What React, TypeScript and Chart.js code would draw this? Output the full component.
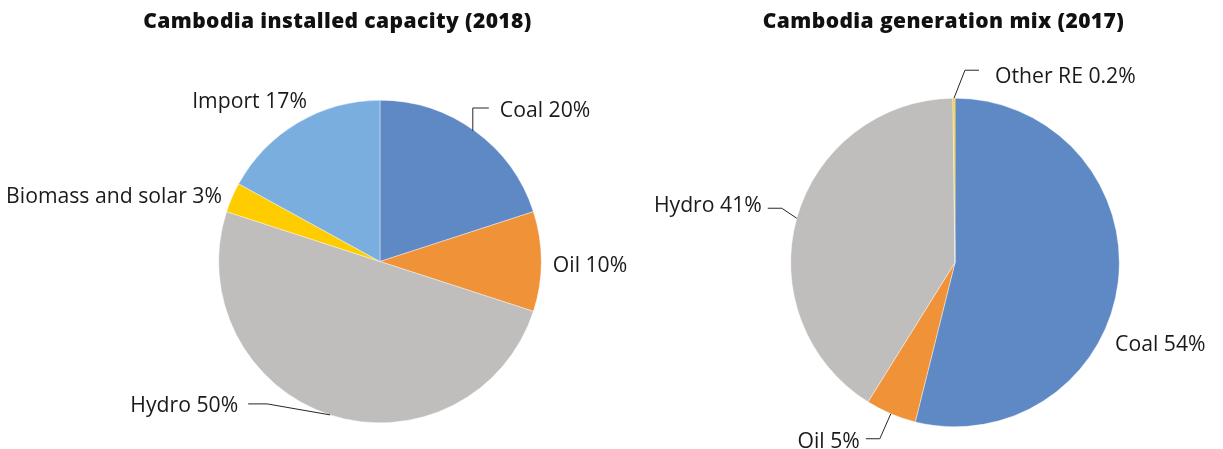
import React, { useEffect, useRef } from "react";
import { Chart, registerables } from "chart.js";

Chart.register(...registerables);

// ---------- data ----------
const capacityTitle = "Cambodia installed capacity (2018)";
const capacityCategories = ["Coal", "Oil", "Hydro", "Biomass and solar", "Import"];
const capacityValues = [20, 10, 50, 3, 17];

const generationTitle = "Cambodia generation mix (2017)";
const generationCategories = ["Coal", "Oil", "Hydro", "Other RE"];
const generationValues = [54, 5, 41, 0.2];

// ---------- styles ----------
const capacityColors = ["#5E89C5", "#F09238", "#BFBEBC", "#FFCC00", "#7AAEDE"];
const generationColors = ["#5E89C5", "#F09238", "#BFBEBC", "#FFCC00"];

type Placement = {
  dx: number;
  dy: number;
  align: "left" | "right";
  leader?: [number, number][];
};

const capacityPlacements: Placement[] = [
  { dx: 25, dy: -14, align: "left", leader: [[-2, 0], [-2, -23], [14, -23]] },
  { dx: 11.5, dy: 10.5, align: "left" },
  { dx: -92, dy: -3, align: "right", leader: [[0, 0], [-63, -11], [-82, -11]] },
  { dx: -10, dy: 5.6, align: "right" },
  { dx: 9, dy: -14.5, align: "right" },
];

const generationPlacements: Placement[] = [
  { dx: -3, dy: 68.5, align: "left" },
  { dx: -31, dy: 34, align: "right", leader: [[0, 0], [-11, 25], [-25, 25]] },
  { dx: -35, dy: -6, align: "right", leader: [[0, 0], [-15, -10], [-29, -10]] },
  { dx: 41, dy: -15, align: "left", leader: [[0, 0], [11, -28], [25, -28]] },
];

const LABEL_FONT = '21.2px "Open Sans"';
const TITLE_FONT = '800 21px "Open Sans"';
const TITLE_SPACING = "0.4px";
const TEXT_COLOR = "#1a1a1a";

const W = 1223;
const H = 449;

type PieProps = {
  title: string;
  titleX: number;
  titleY: number;
  categories: string[];
  values: number[];
  colors: string[];
  padding: { left: number; right: number; top: number; bottom: number };
  placements: Placement[];
};

function PieChart(props: PieProps) {
  const ref = useRef<HTMLCanvasElement | null>(null);

  useEffect(() => {
    const canvas = ref.current;
    if (!canvas) return;
    const { categories, values, colors, placements, title, titleX, titleY } = props;

    const labelPlugin = {
      id: "outsideLabels",
      afterDatasetsDraw(chart: any) {
        const ctx = chart.ctx as CanvasRenderingContext2D;
        const meta = chart.getDatasetMeta(0);
        ctx.save();
        // title
        ctx.font = TITLE_FONT;
        (ctx as any).letterSpacing = TITLE_SPACING;
        ctx.fillStyle = "#111";
        ctx.textAlign = "center";
        ctx.textBaseline = "alphabetic";
        ctx.fillText(title, titleX, titleY);
        (ctx as any).letterSpacing = "0px";

        meta.data.forEach((arc: any, i: number) => {
          const p = arc.getProps(["x", "y", "startAngle", "endAngle", "outerRadius"], true);
          const mid = (p.startAngle + p.endAngle) / 2;
          const px = p.x + Math.cos(mid) * p.outerRadius;
          const py = p.y + Math.sin(mid) * p.outerRadius;
          const pl = placements[i];
          if (!pl) return;
          if (pl.leader) {
            ctx.beginPath();
            ctx.strokeStyle = "#262626";
            ctx.lineWidth = 1;
            pl.leader.forEach(([lx, ly], k) => {
              if (k === 0) ctx.moveTo(px + lx, py + ly);
              else ctx.lineTo(px + lx, py + ly);
            });
            ctx.stroke();
          }
          ctx.font = LABEL_FONT;
          ctx.fillStyle = TEXT_COLOR;
          ctx.textAlign = pl.align;
          ctx.textBaseline = "alphabetic";
          ctx.fillText(`${categories[i]} ${values[i]}%`, px + pl.dx, py + pl.dy);
        });
        ctx.restore();
      },
    };

    const chart = new Chart(canvas, {
      type: "pie",
      data: {
        labels: categories,
        datasets: [
          {
            data: values,
            backgroundColor: colors,
            borderColor: "#ffffff",
            borderWidth: 0.4,
          },
        ],
      },
      options: {
        responsive: false,
        animation: false,
        layout: { padding: props.padding },
        plugins: {
          legend: { display: false },
          title: { display: false },
          tooltip: { enabled: false },
        },
      },
      plugins: [labelPlugin],
    });
    return () => chart.destroy();
  }, []);

  return (
    <canvas
      ref={ref}
      width={W}
      height={H}
      style={{ position: "absolute", left: 0, top: 0, width: W, height: H }}
    />
  );
}

export default function App() {
  return (
    <div style={{ position: "fixed", left: 0, top: 0, width: W, height: H, background: "#fff" }}>
      <PieChart
        title={capacityTitle}
        titleX={337.5}
        titleY={28}
        categories={capacityCategories}
        values={capacityValues}
        colors={capacityColors}
        padding={{ left: 218.5, right: 681.5, top: 100, bottom: 26 }}
        placements={capacityPlacements}
      />
      <PieChart
        title={generationTitle}
        titleX={943.5}
        titleY={28}
        categories={generationCategories}
        values={generationValues}
        colors={generationColors}
        padding={{ left: 790.5, right: 103.5, top: 98, bottom: 22 }}
        placements={generationPlacements}
      />
    </div>
  );
}
